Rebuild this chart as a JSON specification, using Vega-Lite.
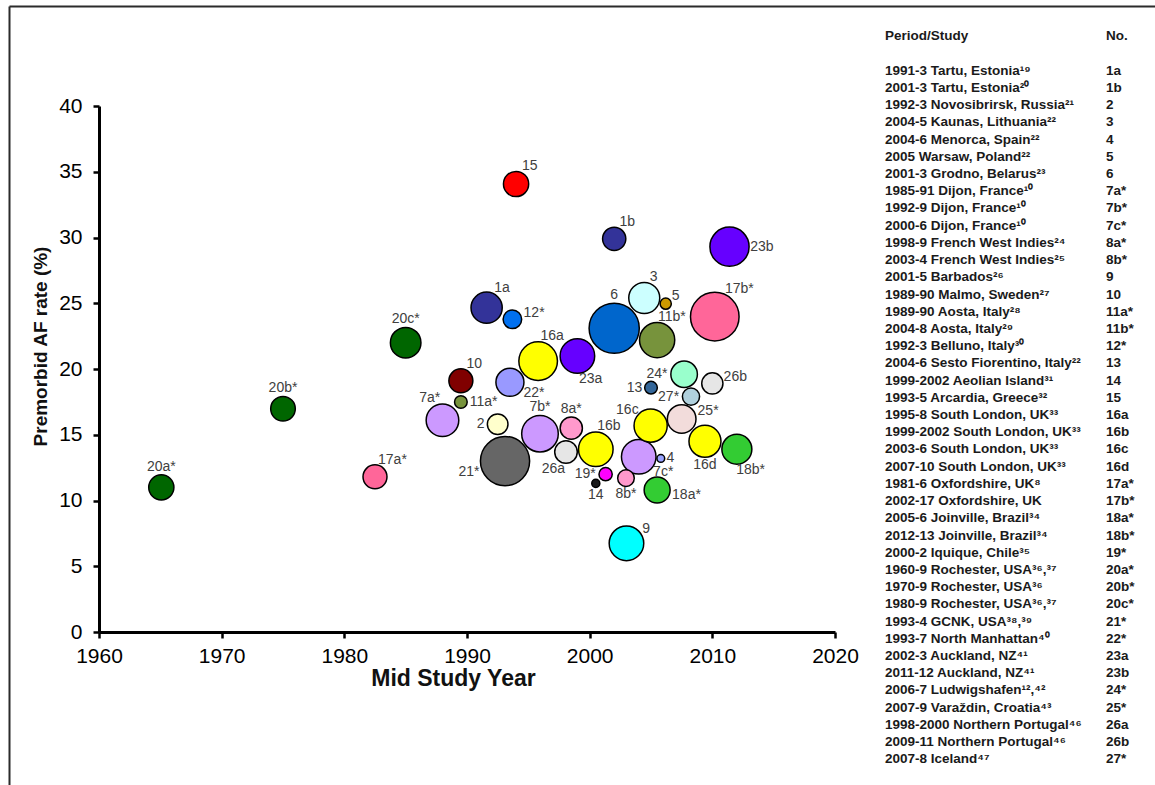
{
  "$schema": "https://vega.github.io/schema/vega-lite/v6.json",
  "autosize": {"type": "none"},
  "padding": {"left": 9, "top": 6, "right": 0, "bottom": 0},
  "width": 1146,
  "height": 779,
  "background": "white",
  "config": {
    "view": {"stroke": null},
    "text": {"font": "Liberation Sans", "fontSize": 14, "color": "#404040", "align": "center", "baseline": "middle"}
  },
  "layer": [
    {
      "data": {"values": [
        {"label": "1a", "study": "1", "year": 1991.6, "rate": 24.66, "cases": 195},
        {"label": "1b", "study": "1", "year": 2002.0, "rate": 29.9, "cases": 108},
        {"label": "2", "study": "2", "year": 1992.5, "rate": 15.8, "cases": 85},
        {"label": "3", "study": "3", "year": 2004.45, "rate": 25.4, "cases": 192},
        {"label": "4", "study": "4", "year": 2005.8, "rate": 13.2, "cases": 12},
        {"label": "5", "study": "5", "year": 2006.2, "rate": 24.97, "cases": 25},
        {"label": "6", "study": "6", "year": 2002.0, "rate": 23.1, "cases": 504},
        {"label": "7a*", "study": "7", "year": 1988.0, "rate": 16.1, "cases": 213},
        {"label": "7b*", "study": "7", "year": 1995.95, "rate": 15.08, "cases": 268},
        {"label": "7c*", "study": "7", "year": 2004.0, "rate": 13.33, "cases": 239},
        {"label": "8a*", "study": "8", "year": 1998.5, "rate": 15.5, "cases": 99},
        {"label": "8b*", "study": "8", "year": 2002.96, "rate": 11.7, "cases": 55},
        {"label": "9", "study": "9", "year": 2003.0, "rate": 6.74, "cases": 239},
        {"label": "10", "study": "10", "year": 1989.5, "rate": 19.1, "cases": 115},
        {"label": "11a*", "study": "11", "year": 1989.5, "rate": 17.49, "cases": 32},
        {"label": "11b*", "study": "11", "year": 2005.5, "rate": 22.2, "cases": 248},
        {"label": "12*", "study": "12", "year": 1993.7, "rate": 23.78, "cases": 69},
        {"label": "13", "study": "13", "year": 2005.0, "rate": 18.58, "cases": 32},
        {"label": "14", "study": "14", "year": 2000.5, "rate": 11.3, "cases": 13},
        {"label": "15", "study": "15", "year": 1994.0, "rate": 34.07, "cases": 127},
        {"label": "16a", "study": "16", "year": 1995.8, "rate": 20.6, "cases": 298},
        {"label": "16b", "study": "16", "year": 2000.5, "rate": 13.9, "cases": 239},
        {"label": "16c", "study": "16", "year": 2004.97, "rate": 15.69, "cases": 220},
        {"label": "16d", "study": "16", "year": 2009.4, "rate": 14.5, "cases": 205},
        {"label": "17a*", "study": "17", "year": 1982.5, "rate": 11.8, "cases": 115},
        {"label": "17b*", "study": "17", "year": 2010.2, "rate": 23.98, "cases": 472},
        {"label": "18a*", "study": "18", "year": 2005.5, "rate": 10.8, "cases": 135},
        {"label": "18b*", "study": "18", "year": 2012.0, "rate": 13.9, "cases": 180},
        {"label": "19*", "study": "19", "year": 2001.3, "rate": 12.0, "cases": 35},
        {"label": "20a*", "study": "20", "year": 1965.08, "rate": 11.0, "cases": 127},
        {"label": "20b*", "study": "20", "year": 1975.0, "rate": 16.98, "cases": 121},
        {"label": "20c*", "study": "20", "year": 1985.0, "rate": 22.0, "cases": 187},
        {"label": "21*", "study": "21", "year": 1993.1, "rate": 13.0, "cases": 484},
        {"label": "22*", "study": "22", "year": 1993.5, "rate": 18.99, "cases": 157},
        {"label": "23a", "study": "23", "year": 1999.0, "rate": 20.99, "cases": 239},
        {"label": "23b", "study": "23", "year": 2011.4, "rate": 29.3, "cases": 307},
        {"label": "24*", "study": "24", "year": 2007.7, "rate": 19.6, "cases": 141},
        {"label": "25*", "study": "25", "year": 2007.5, "rate": 16.2, "cases": 164},
        {"label": "26a", "study": "26", "year": 1998.07, "rate": 13.69, "cases": 102},
        {"label": "26b", "study": "26", "year": 2010.0, "rate": 18.9, "cases": 90},
        {"label": "27*", "study": "27", "year": 2008.26, "rate": 17.9, "cases": 59}
      ]},
      "encoding": {
        "x": {"field": "year", "type": "quantitative",
          "scale": {"domain": [1960, 2020], "range": [90, 826], "nice": false, "zero": false},
          "axis": {"orient": "bottom", "offset": -153, "values": [1960, 1970, 1980, 1990, 2000, 2010, 2020], "format": "d",
            "grid": false, "domainColor": "black", "domainWidth": 3, "tickColor": "black", "tickWidth": 2.5, "tickSize": 6,
            "labelFont": "Liberation Sans", "labelFontSize": 21, "labelColor": "black", "labelPadding": 7,
            "labelFlush": false, "labelOverlap": false,
            "title": "Mid Study Year", "titleFont": "Liberation Sans", "titleFontSize": 23, "titleFontWeight": "bold",
            "titleColor": "#111111", "titlePadding": 1, "titleX": 444}},
        "y": {"field": "rate", "type": "quantitative",
          "scale": {"domain": [0, 40], "range": [626, 100], "nice": false, "zero": false},
          "axis": {"orient": "left", "offset": -90, "values": [0, 5, 10, 15, 20, 25, 30, 35, 40],
            "grid": false, "domainColor": "black", "domainWidth": 3, "tickColor": "black", "tickWidth": 2.5, "tickSize": 6,
            "labelFont": "Liberation Sans", "labelFontSize": 21, "labelColor": "black", "labelPadding": 11,
            "labelFlush": false, "labelOverlap": false,
            "title": "Premorbid AF rate (%)", "titleFont": "Liberation Sans", "titleFontSize": 19, "titleFontWeight": "bold",
            "titleColor": "#111111", "titlePadding": 8, "titleY": 340}}
      },
      "layer": [
        {
          "mark": {"type": "circle", "opacity": 1, "stroke": "black", "strokeWidth": 1.5},
          "encoding": {
            "size": {"field": "cases", "type": "quantitative", "scale": {"type": "linear", "domain": [0, 1000], "range": [0, 5000]}, "legend": null},
            "fill": {"field": "study", "type": "nominal", "legend": null,
              "scale": {
                "domain": ["1","2","3","4","5","6","7","8","9","10","11","12","13","14","15","16","17","18","19","20","21","22","23","24","25","26","27"],
                "range": ["#333399","#FFFFCC","#CCFFFF","#99A3FF","#CC9900","#0066CC","#CC99FF","#FF99CC","#00FFFF","#800000","#77933C","#0070F0","#336699","#1A1A1A","#FF0000","#FFFF00","#FF6699","#33CC33","#FF00FF","#006600","#666666","#9999FF","#6600FF","#99FFCC","#F2DCDB","#E6E6E6","#B0D0DC"]
              }}
          }
        },
        {"transform": [{"filter": {"field": "label", "oneOf": ["20c*","6","7b*","8a*","20b*","20a*"]}}],
         "mark": {"type": "text", "dx": 0, "dy": {"expr": "-1*(sqrt(datum.cases*5)/2+3+5)"}},
         "encoding": {"text": {"field": "label"}}},
        {"transform": [{"filter": {"field": "label", "oneOf": ["3","16b","16a","11b*"]}}],
         "mark": {"type": "text", "dx": {"expr": "0.423*(sqrt(datum.cases*5)/2+3+length(datum.label)*3.6)"}, "dy": {"expr": "-0.906*(sqrt(datum.cases*5)/2+3+5)"}},
         "encoding": {"text": {"field": "label"}}},
        {"transform": [{"filter": {"field": "label", "oneOf": ["15","1b","1a","17b*","10","17a*"]}}],
         "mark": {"type": "text", "dx": {"expr": "0.574*(sqrt(datum.cases*5)/2+4+length(datum.label)*3.6)"}, "dy": {"expr": "-0.819*(sqrt(datum.cases*5)/2+4+5)"}},
         "encoding": {"text": {"field": "label"}}},
        {"transform": [{"filter": {"field": "label", "oneOf": ["5","9"]}}],
         "mark": {"type": "text", "dx": {"expr": "0.819*(sqrt(datum.cases*5)/2+3+length(datum.label)*3.6)"}, "dy": {"expr": "-0.574*(sqrt(datum.cases*5)/2+3+5)"}},
         "encoding": {"text": {"field": "label"}}},
        {"transform": [{"filter": {"field": "label", "oneOf": ["12*","26b","25*"]}}],
         "mark": {"type": "text", "dx": {"expr": "0.94*(sqrt(datum.cases*5)/2+3+length(datum.label)*3.6)"}, "dy": {"expr": "-0.342*(sqrt(datum.cases*5)/2+3+5)"}},
         "encoding": {"text": {"field": "label"}}},
        {"transform": [{"filter": {"field": "label", "oneOf": ["23b","11a*","4"]}}],
         "mark": {"type": "text", "dx": {"expr": "1*(sqrt(datum.cases*5)/2+2+length(datum.label)*3.6)"}, "dy": 0},
         "encoding": {"text": {"field": "label"}}},
        {"transform": [{"filter": {"field": "label", "oneOf": ["18a*"]}}],
         "mark": {"type": "text", "dx": {"expr": "0.966*(sqrt(datum.cases*5)/2+3+length(datum.label)*3.6)"}, "dy": {"expr": "0.259*(sqrt(datum.cases*5)/2+3+5)"}},
         "encoding": {"text": {"field": "label"}}},
        {"transform": [{"filter": {"field": "label", "oneOf": ["22*"]}}],
         "mark": {"type": "text", "dx": {"expr": "0.866*(sqrt(datum.cases*5)/2+3+length(datum.label)*3.6)"}, "dy": {"expr": "0.5*(sqrt(datum.cases*5)/2+3+5)"}},
         "encoding": {"text": {"field": "label"}}},
        {"transform": [{"filter": {"field": "label", "oneOf": ["7c*"]}}],
         "mark": {"type": "text", "dx": {"expr": "0.788*(sqrt(datum.cases*5)/2+3+length(datum.label)*3.6)"}, "dy": {"expr": "0.616*(sqrt(datum.cases*5)/2+3+5)"}},
         "encoding": {"text": {"field": "label"}}},
        {"transform": [{"filter": {"field": "label", "oneOf": ["18b*","23a"]}}],
         "mark": {"type": "text", "dx": {"expr": "0.423*(sqrt(datum.cases*5)/2+3+length(datum.label)*3.6)"}, "dy": {"expr": "0.906*(sqrt(datum.cases*5)/2+3+5)"}},
         "encoding": {"text": {"field": "label"}}},
        {"transform": [{"filter": {"field": "label", "oneOf": ["14","8b*","16d"]}}],
         "mark": {"type": "text", "dx": 0, "dy": {"expr": "1*(sqrt(datum.cases*5)/2+3+5)"}},
         "encoding": {"text": {"field": "label"}}},
        {"transform": [{"filter": {"field": "label", "oneOf": ["26a"]}}],
         "mark": {"type": "text", "dx": {"expr": "-0.5*(sqrt(datum.cases*5)/2+3+length(datum.label)*3.6)"}, "dy": {"expr": "0.866*(sqrt(datum.cases*5)/2+3+5)"}},
         "encoding": {"text": {"field": "label"}}},
        {"transform": [{"filter": {"field": "label", "oneOf": ["21*"]}}],
         "mark": {"type": "text", "dx": {"expr": "-0.94*(sqrt(datum.cases*5)/2+3+length(datum.label)*3.6)"}, "dy": {"expr": "0.342*(sqrt(datum.cases*5)/2+3+5)"}},
         "encoding": {"text": {"field": "label"}}},
        {"transform": [{"filter": {"field": "label", "oneOf": ["2","19*","13","24*","27*"]}}],
         "mark": {"type": "text", "dx": {"expr": "-1*(sqrt(datum.cases*5)/2+3+length(datum.label)*3.6)"}, "dy": 0},
         "encoding": {"text": {"field": "label"}}},
        {"transform": [{"filter": {"field": "label", "oneOf": ["7a*"]}}],
         "mark": {"type": "text", "dx": {"expr": "-0.423*(sqrt(datum.cases*5)/2+3+length(datum.label)*3.6)"}, "dy": {"expr": "-0.906*(sqrt(datum.cases*5)/2+3+5)"}},
         "encoding": {"text": {"field": "label"}}},
        {"transform": [{"filter": {"field": "label", "oneOf": ["16c"]}}],
         "mark": {"type": "text", "dx": {"expr": "-0.766*(sqrt(datum.cases*5)/2+3+length(datum.label)*3.6)"}, "dy": {"expr": "-0.643*(sqrt(datum.cases*5)/2+3+5)"}},
         "encoding": {"text": {"field": "label"}}}
      ]
    },
    {
      "data": {"values": [
        {"row": -2, "study": "Period/Study", "no": "No."},
        {"row": 0, "study": "1991-3 Tartu, Estonia¹⁹", "no": "1a"},
        {"row": 1, "study": "2001-3 Tartu, Estonia²⁰", "no": "1b"},
        {"row": 2, "study": "1992-3 Novosibrirsk, Russia²¹", "no": "2"},
        {"row": 3, "study": "2004-5 Kaunas, Lithuania²²", "no": "3"},
        {"row": 4, "study": "2004-6 Menorca, Spain²²", "no": "4"},
        {"row": 5, "study": "2005 Warsaw, Poland²²", "no": "5"},
        {"row": 6, "study": "2001-3 Grodno, Belarus²³", "no": "6"},
        {"row": 7, "study": "1985-91 Dijon, France¹⁰", "no": "7a*"},
        {"row": 8, "study": "1992-9 Dijon, France¹⁰", "no": "7b*"},
        {"row": 9, "study": "2000-6 Dijon, France¹⁰", "no": "7c*"},
        {"row": 10, "study": "1998-9 French West Indies²⁴", "no": "8a*"},
        {"row": 11, "study": "2003-4 French West Indies²⁵", "no": "8b*"},
        {"row": 12, "study": "2001-5 Barbados²⁶", "no": "9"},
        {"row": 13, "study": "1989-90 Malmo, Sweden²⁷", "no": "10"},
        {"row": 14, "study": "1989-90 Aosta, Italy²⁸", "no": "11a*"},
        {"row": 15, "study": "2004-8 Aosta, Italy²⁹", "no": "11b*"},
        {"row": 16, "study": "1992-3 Belluno, Italy³⁰", "no": "12*"},
        {"row": 17, "study": "2004-6 Sesto Fiorentino, Italy²²", "no": "13"},
        {"row": 18, "study": "1999-2002 Aeolian Island³¹", "no": "14"},
        {"row": 19, "study": "1993-5 Arcardia, Greece³²", "no": "15"},
        {"row": 20, "study": "1995-8 South London, UK³³", "no": "16a"},
        {"row": 21, "study": "1999-2002 South London, UK³³", "no": "16b"},
        {"row": 22, "study": "2003-6 South London, UK³³", "no": "16c"},
        {"row": 23, "study": "2007-10 South London, UK³³", "no": "16d"},
        {"row": 24, "study": "1981-6 Oxfordshire, UK⁸", "no": "17a*"},
        {"row": 25, "study": "2002-17 Oxfordshire, UK", "no": "17b*"},
        {"row": 26, "study": "2005-6 Joinville, Brazil³⁴", "no": "18a*"},
        {"row": 27, "study": "2012-13 Joinville, Brazil³⁴", "no": "18b*"},
        {"row": 28, "study": "2000-2 Iquique, Chile³⁵", "no": "19*"},
        {"row": 29, "study": "1960-9 Rochester, USA³⁶,³⁷", "no": "20a*"},
        {"row": 30, "study": "1970-9 Rochester, USA³⁶", "no": "20b*"},
        {"row": 31, "study": "1980-9 Rochester, USA³⁶,³⁷", "no": "20c*"},
        {"row": 32, "study": "1993-4 GCNK, USA³⁸,³⁹", "no": "21*"},
        {"row": 33, "study": "1993-7 North Manhattan⁴⁰", "no": "22*"},
        {"row": 34, "study": "2002-3 Auckland, NZ⁴¹", "no": "23a"},
        {"row": 35, "study": "2011-12 Auckland, NZ⁴¹", "no": "23b"},
        {"row": 36, "study": "2006-7 Ludwigshafen¹²,⁴²", "no": "24*"},
        {"row": 37, "study": "2007-9 Varaždin, Croatia⁴³", "no": "25*"},
        {"row": 38, "study": "1998-2000 Northern Portugal⁴⁶", "no": "26a"},
        {"row": 39, "study": "2009-11 Northern Portugal⁴⁶", "no": "26b"},
        {"row": 40, "study": "2007-8 Iceland⁴⁷", "no": "27*"}
      ]},
      "encoding": {
        "y": {"field": "row", "type": "quantitative",
          "scale": {"domain": [-3.76, 41.842], "range": [0, 785], "nice": false, "zero": false},
          "axis": {"orient": "left", "offset": 0, "domain": true, "domainColor": "#2b2b2b", "domainWidth": 2, "ticks": false, "labels": false, "grid": false, "title": null}}
      },
      "layer": [
        {
          "mark": {"type": "text", "align": "left", "baseline": "middle", "font": "Liberation Sans", "fontSize": 13.5, "fontWeight": "bold", "color": "#1a1a1a"},
          "encoding": {
            "x": {"datum": 0, "type": "quantitative",
              "scale": {"domain": [-3.9638, 1.2217], "range": [0, 1146], "nice": false, "zero": false},
              "axis": {"orient": "top", "offset": 0, "domain": true, "domainColor": "#2b2b2b", "domainWidth": 2, "ticks": false, "labels": false, "grid": false, "title": null}},
            "text": {"field": "study"}
          }
        },
        {
          "mark": {"type": "text", "align": "left", "baseline": "middle", "font": "Liberation Sans", "fontSize": 13.5, "fontWeight": "bold", "color": "#1a1a1a"},
          "encoding": {
            "x": {"datum": 1, "type": "quantitative"},
            "text": {"field": "no"}
          }
        }
      ]
    }
  ],
  "resolve": {"scale": {"x": "independent", "y": "independent"}}
}
